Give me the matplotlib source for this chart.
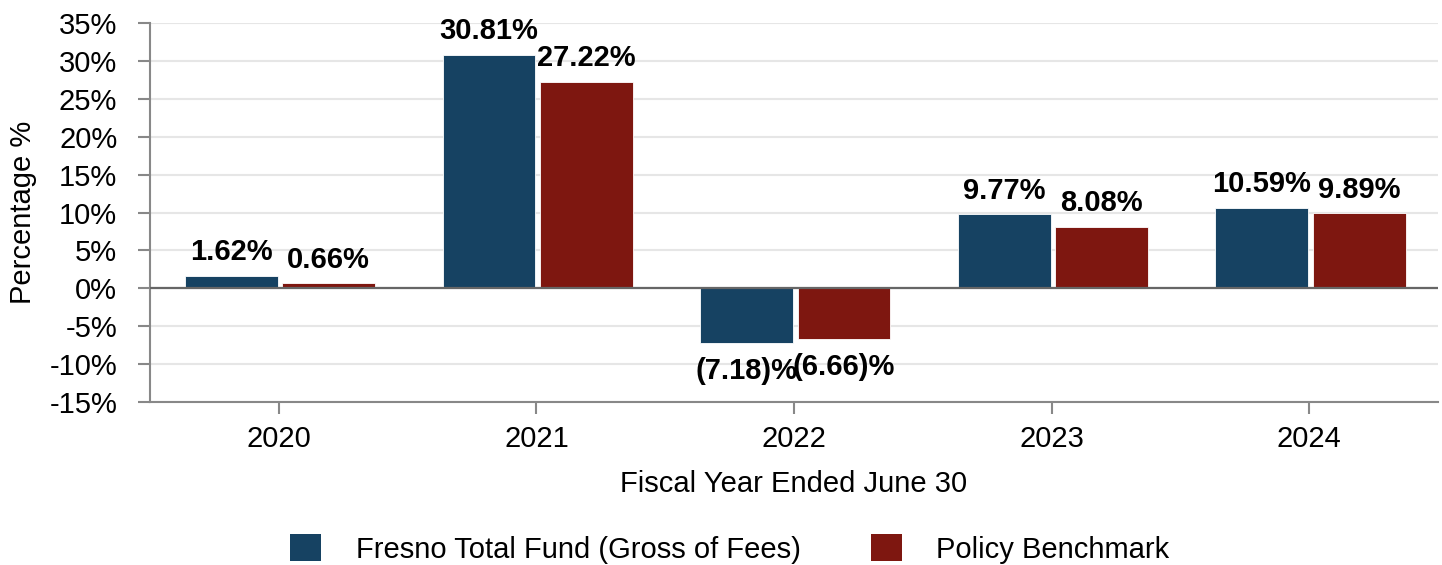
import matplotlib
matplotlib.use("Agg")
import matplotlib.pyplot as plt
import numpy as np
from matplotlib.patches import Patch

years = ["2020", "2021", "2022", "2023", "2024"]
fund = [1.62, 30.81, -7.18, 9.77, 10.59]
bench = [0.66, 27.22, -6.66, 8.08, 9.89]
series_names = ["Fresno Total Fund (Gross of Fees)", "Policy Benchmark"]
yticks = list(range(-15, 40, 5))

BLUE = "#164262"
RED = "#7E1710"

plt.rcParams["font.family"] = ["Liberation Sans", "DejaVu Sans"]
FS = 21

fig = plt.figure(figsize=(14.42, 5.65), dpi=100)
ax = fig.add_axes([150/1442, 1-402/565, (1438-150)/1442, (402-23)/565])

x = np.arange(len(years))
w = 0.36
b1 = ax.bar(x - 0.184, fund, width=w, color=BLUE, edgecolor="white", linewidth=0.6, zorder=3)
b2 = ax.bar(x + 0.194, bench, width=w, color=RED, edgecolor="white", linewidth=0.6, zorder=3)

def fmt(v):
    return f"({abs(v):.2f})%" if v < 0 else f"{v:.2f}%"

for bars, vals in ((b1, fund), (b2, bench)):
    for rect, v in zip(bars, vals):
        cx = rect.get_x() + rect.get_width()/2
        if v >= 0:
            ax.annotate(fmt(v), (cx, v), xytext=(0, 7), textcoords="offset points",
                        ha="center", va="bottom", fontsize=FS, fontweight="bold", zorder=5)
        else:
            ax.annotate(fmt(v), (cx, v), xytext=(0, -10.5), textcoords="offset points",
                        ha="center", va="top", fontsize=FS, fontweight="bold", zorder=5)

ax.set_xlim(-0.5, len(years) - 0.5)
ax.set_ylim(-15, 35)
ax.set_yticks(yticks)
ax.set_yticklabels([f"{t}%" for t in yticks], fontsize=FS)
ax.set_xticks(x)
ax.set_xticklabels(years, fontsize=FS)
ax.grid(axis="y", color="#e6e6e6", linewidth=1.5, zorder=0)
ax.axhline(0, color="#666666", linewidth=1.6, zorder=4)

for s in ("top", "right"):
    ax.spines[s].set_visible(False)
for s in ("left", "bottom"):
    ax.spines[s].set_color("#888888")
    ax.spines[s].set_linewidth(1.5)
ax.tick_params(axis="both", colors="#888888", width=1.5, length=8.5, labelcolor="black")
ax.tick_params(axis="y", pad=15)
ax.tick_params(axis="x", pad=8)

ax.set_xlabel("Fiscal Year Ended June 30", fontsize=FS, labelpad=12)
ax.set_ylabel("Percentage %", fontsize=FS, labelpad=9)

handles = [Patch(facecolor=BLUE), Patch(facecolor=RED)]
fig.legend(handles, series_names, loc="center", bbox_to_anchor=(730/1442, 1-549/565),
           ncol=2, frameon=False, fontsize=FS, handlelength=1.05, handleheight=1.05,
           handletextpad=1.2, columnspacing=2.4)

fig.savefig("out.png", dpi=100)
